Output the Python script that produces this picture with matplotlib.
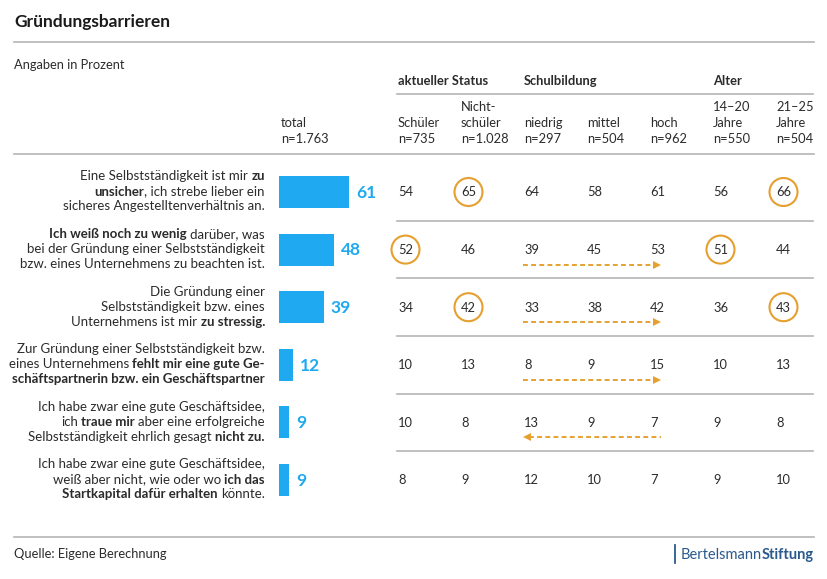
import matplotlib
matplotlib.use("Agg")
import matplotlib.pyplot as plt
from matplotlib.font_manager import FontProperties
from matplotlib.patches import Circle

plt.rcParams["font.family"] = ["Lato", "DejaVu Sans"]

# ---- data -------------------------------------------------------------
# row labels, bold parts marked with *...*
questions = [
    ["Eine Selbstständigkeit ist mir *zu*",
     "*unsicher*, ich strebe lieber ein",
     "sicheres Angestelltenverhältnis an."],
    ["*Ich weiß noch zu wenig* darüber, was",
     "bei der Gründung einer Selbstständigkeit",
     "bzw. eines Unternehmens zu beachten ist."],
    ["Die Gründung einer",
     "Selbstständigkeit bzw. eines",
     "Unternehmens ist mir *zu stressig.*"],
    ["Zur Gründung einer Selbstständigkeit bzw.",
     "eines Unternehmens *fehlt mir eine gute Ge-*",
     "*schäftspartnerin bzw. ein Geschäftspartner*"],
    ["Ich habe zwar eine gute Geschäftsidee,",
     "ich *traue mir* aber eine erfolgreiche",
     "Selbstständigkeit ehrlich gesagt *nicht zu.*"],
    ["Ich habe zwar eine gute Geschäftsidee,",
     "weiß aber nicht, wie oder wo *ich das*",
     "*Startkapital dafür erhalten* könnte."],
]
total = [61, 48, 39, 12, 9, 9]
total_n = "1.763"

col_names = ["Schüler", "Nicht-\nschüler", "niedrig", "mittel", "hoch",
             "14–20\nJahre", "21–25\nJahre"]
col_n = ["735", "1.028", "297", "504", "962", "550", "504"]
groups = ["aktueller Status", "Schulbildung", "Alter"]
group_start = [0, 2, 5]

values = [
    [54, 65, 64, 58, 61, 56, 66],
    [52, 46, 39, 45, 53, 51, 44],
    [34, 42, 33, 38, 42, 36, 43],
    [10, 13, 8, 9, 15, 10, 13],
    [10, 8, 13, 9, 7, 9, 8],
    [8, 9, 12, 10, 7, 9, 10],
]
# (row, column) cells with a circle
circled = [(0, 1), (0, 6), (1, 0), (1, 5), (2, 1), (2, 6)]
# trend arrow across Schulbildung: 1 rising, -1 falling, 0 none
trend = [0, 1, 1, 1, -1, 0]

# ---- style ------------------------------------------------------------
DARK = "#2b2b2b"
BLUE = "#1fa9f1"
ORANGE = "#e5a030"
GREY = "#b5b5b5"
NAVY = "#2a5a8c"
LABEL_SIZE = 9.55

W, H = 828, 579
fig = plt.figure(figsize=(W / 100, H / 100), dpi=100)
ax = fig.add_axes([0, 0, 1, 1])
ax.set_xlim(0, W)
ax.set_ylim(H, 0)
ax.axis("off")
renderer = fig.canvas.get_renderer()

ROW0, ROW_STEP = 192, 57.6
row_y = [ROW0 + i * ROW_STEP for i in range(len(questions))]
COL0, COL_STEP = 398, 63
col_x = [COL0 + i * COL_STEP for i in range(len(col_names))]


def text_width(s, prop):
    # advance width, measured between two sentinel glyphs
    w1, _, _ = renderer.get_text_width_height_descent("|" + s + "|", prop, ismath=False)
    w0, _, _ = renderer.get_text_width_height_descent("||", prop, ismath=False)
    return w1 - w0


def draw_line(x, y, markup, size, ha="right", color=DARK):
    """draw one line with *bold* parts, baseline at y; returns left edge"""
    parts = markup.split("*")
    segs = []
    for i, p in enumerate(parts):
        if p:
            prop = FontProperties(family="Lato", size=size,
                                  weight="bold" if i % 2 else "normal")
            segs.append((p, prop))
    total_w = sum(text_width(s, p) for s, p in segs)
    x0 = x - total_w if ha == "right" else x
    cx = x0
    for s, prop in segs:
        lead = len(s) - len(s.lstrip(" "))
        trail = len(s) - len(s.rstrip(" "))
        sp = text_width(" ", prop)
        cx += lead * sp
        core = s.strip(" ")
        ax.text(cx, y, core, fontproperties=prop, color=color,
                ha="left", va="baseline")
        cx += text_width(core, prop) + trail * sp
    return x0


# ---- header -----------------------------------------------------------
draw_line(14, 27, "*Gründungsbarrieren*", 12.5, ha="left", color="#1a1a1a")
ax.plot([14, 814], [42, 42], color=GREY, lw=1.2)
draw_line(14, 69, "Angaben in Prozent", 9.3, ha="left")

for g, c in zip(groups, group_start):
    draw_line(col_x[c], 85, "*" + g + "*", 9.3, ha="left")
ax.plot([397, 813], [94, 94], color=GREY, lw=1.2)

draw_line(281, 127, "total", 9.3, ha="left")
draw_line(281, 143, "n=" + total_n, 9.3, ha="left")
for x, name, n in zip(col_x, col_names, col_n):
    lines = name.split("\n") + ["n=" + n]
    for k, line in enumerate(reversed(lines)):
        draw_line(x, 143 - 16 * k, line, 9.3, ha="left")
ax.plot([14, 814], [154, 154], color=GREY, lw=1.2)

# ---- rows -------------------------------------------------------------
for i, (lines, y) in enumerate(zip(questions, row_y)):
    for k, line in enumerate(lines):
        draw_line(265, y + 3.5 + (k - 1) * 15, line, LABEL_SIZE)
    if i < len(questions) - 1:
        ax.plot([397, 813], [y + ROW_STEP / 2] * 2, color=GREY, lw=1.2)

# bars on their own axes in percent units
PX_PER_PCT = 70 / 61
bar_ax = fig.add_axes([279 / W, 0, 100 * PX_PER_PCT / W, 1])
bar_ax.set_xlim(0, 100)
bar_ax.set_ylim(H, 0)
bar_ax.axis("off")
bar_ax.barh(row_y, total, height=32, color=BLUE)
for v, y in zip(total, row_y):
    bar_ax.annotate(str(v), (v, y), xytext=(5, -4.2), textcoords="offset points",
                    ha="left", va="baseline", fontsize=12.5, fontweight="bold",
                    color=BLUE)

# table values
num_prop = FontProperties(family="Lato", size=9.3)
for i, row in enumerate(values):
    for j, v in enumerate(row):
        ax.text(col_x[j], row_y[i] + 4.5, str(v), fontproperties=num_prop,
                color=DARK, ha="left", va="baseline")
for i, j in circled:
    w = text_width(str(values[i][j]), num_prop)
    ax.add_patch(Circle((col_x[j] + w / 2, row_y[i]), 14, fill=False,
                        ec=ORANGE, lw=1.5))

# trend arrows across Schulbildung
x_lo, x_hi = col_x[2] - 1, col_x[4] + 11
for t, y in zip(trend, row_y):
    if t == 0:
        continue
    ya = y + 15
    if t > 0:
        ax.plot([x_lo, x_hi - 6], [ya, ya], color=ORANGE, lw=1.4,
                dashes=(2.5, 1.7))
        ax.plot([x_hi - 4], [ya], marker=">", ms=6, color=ORANGE, mew=0)
    else:
        ax.plot([x_lo + 6, x_hi], [ya, ya], color=ORANGE, lw=1.4,
                dashes=(2.5, 1.7))
        ax.plot([x_lo + 4], [ya], marker="<", ms=6, color=ORANGE, mew=0)

# ---- footer -----------------------------------------------------------
ax.plot([14, 814], [537, 537], color=GREY, lw=1.2)
draw_line(14, 558, "Quelle: Eigene Berechnung", 9.3, ha="left")
left = draw_line(814, 559, "Bertelsmann*Stiftung*", 10.5, color=NAVY)
ax.plot([left - 6, left - 6], [545, 563], color=NAVY, lw=1.3)

fig.savefig("out.png", dpi=100)
